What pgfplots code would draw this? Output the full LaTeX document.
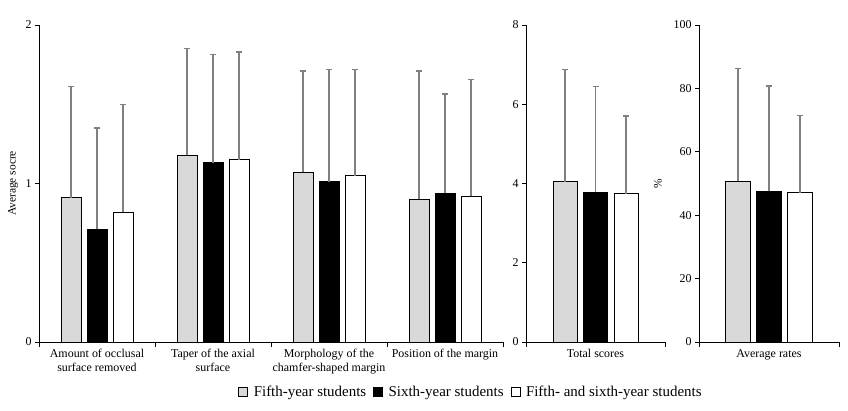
\documentclass[border=0pt]{standalone}
\usepackage{pgfplots}
\pgfplotsset{compat=1.18}
\usepackage{fontspec}
\setmainfont{Liberation Serif}

\definecolor{fifth}{HTML}{D9D9D9}
\definecolor{errgray}{HTML}{808080}

\pgfplotsset{
  panel/.style={
    scale only axis, height=317bp, ymin=0,
    axis x line*=bottom, axis y line*=left,
    axis line style={line width=0.9bp, black, -},
    tick align=outside,
    major tick length=4bp, minor tick length=5bp,
    every tick/.style={black, line width=0.9bp},
    major x tick style={draw=none},
    tick label style={font=\fontsize{12}{13.5}\selectfont},
    xticklabel style={align=center},
    /pgf/number format/assume math mode=true,
    ylabel style={font=\fontsize{11.5}{13}\selectfont},
    ybar, enlargelimits=false,
    legend image code/.code={%
      \draw[#1, line width=0.8bp] (0bp,-4bp) rectangle (9bp,5bp);
      \path[draw=none, fill=none] (0bp,0bp) -- (13bp,0bp);},
  },
  sd/.style={
    /pgfplots/error bars/y dir=plus,
    /pgfplots/error bars/y explicit,
    /pgfplots/error bars/error mark=-,
    /pgfplots/error bars/error bar style={errgray, line width=1.3bp},
    /pgfplots/error bars/error mark options={rotate=90, errgray, line width=1.3bp, mark size=3bp}},
  grpA/.style={fill=fifth, draw=black, line width=0.9bp, sd},
  grpB/.style={fill=black, draw=black, line width=0.9bp, sd},
  grpC/.style={fill=white, draw=black, line width=0.9bp, sd},
}

\begin{document}
\begin{tikzpicture}
\path[use as bounding box] (0,0) rectangle (848bp,411bp);

% Criteria scores (0-2)
\begin{axis}[panel, at={(39bp,69bp)}, anchor=south west,
  width=464bp, xmin=-0.5, xmax=3.5, ymax=2, ytick={0,1,2},
  xtick={0,1,2,3},
  xticklabels={{Amount of occlusal\\surface removed},
               {Taper of the axial\\surface},
               {Morphology of the\\chamfer-shaped margin},
               {Position of the margin}},
  minor xtick={-0.5,0.5,1.5,2.5,3.5},
  bar width=20bp,
  ylabel={Average socre},
  ylabel style={at={(axis description cs:0,0.5)}, anchor=center, yshift=26bp},
  legend columns=3,
  legend style={draw=none, fill=none, at={(0.931,-0.158)}, anchor=center,
    font=\fontsize{15}{17}\selectfont, inner sep=0pt,
    /tikz/every even column/.append style={column sep=5bp}},
]
\addplot[grpA, bar shift=-26bp] coordinates {
  (0,0.91) +- (0,0.70)
  (1,1.18) +- (0,0.67)
  (2,1.07) +- (0,0.64)
  (3,0.90) +- (0,0.81)};
\addplot[grpB, bar shift=0bp] coordinates {
  (0,0.71) +- (0,0.64)
  (1,1.13) +- (0,0.685)
  (2,1.01) +- (0,0.71)
  (3,0.94) +- (0,0.625)};
\addplot[grpC, bar shift=26bp] coordinates {
  (0,0.82) +- (0,0.68)
  (1,1.15) +- (0,0.68)
  (2,1.05) +- (0,0.67)
  (3,0.92) +- (0,0.735)};
\legend{Fifth-year students, Sixth-year students, Fifth- and sixth-year students}
\end{axis}

% Total scores (0-8)
\begin{axis}[panel, at={(526bp,69bp)}, anchor=south west,
  width=139bp, xmin=-0.5, xmax=0.5, ymax=8, ytick={0,2,4,6,8},
  xtick={0}, xticklabels={Total scores},
  minor xtick={-0.5,0.5},
  bar width=24bp,
]
\addplot[grpA, bar shift=-30.5bp] coordinates {(0,4.05) +- (0,2.83)};
\addplot[grpB, bar shift=0bp] coordinates {(0,3.78) +- (0,2.67)};
\addplot[grpC, bar shift=30.5bp] coordinates {(0,3.74) +- (0,1.96)};
\end{axis}

% Average rates (%)
\begin{axis}[panel, at={(699bp,69bp)}, anchor=south west,
  width=140bp, xmin=-0.5, xmax=0.5, ymax=100, ytick={0,20,40,60,80,100},
  xtick={0}, xticklabels={Average rates},
  minor xtick={-0.5,0.5},
  bar width=24.5bp,
  ylabel={\%},
  ylabel style={at={(axis description cs:0,0.5)}, anchor=center, yshift=41bp},
]
\addplot[grpA, bar shift=-31bp] coordinates {(0,50.8) +- (0,35.5)};
\addplot[grpB, bar shift=0bp] coordinates {(0,47.6) +- (0,33.2)};
\addplot[grpC, bar shift=31bp] coordinates {(0,47.1) +- (0,24.3)};
\end{axis}
\end{tikzpicture}
\end{document}
